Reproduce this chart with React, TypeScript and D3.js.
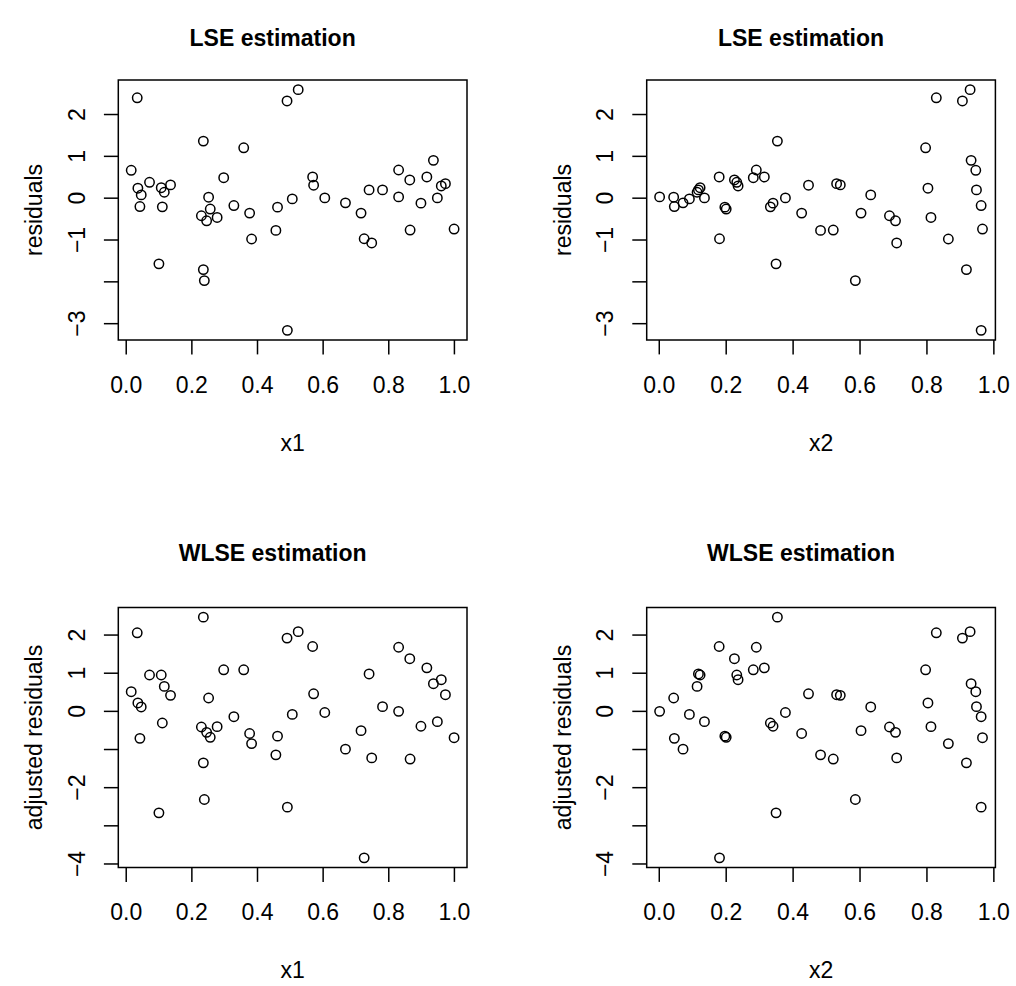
import * as d3 from 'd3';

const x1 = [
  0.0335, 0.0152, 0.0355, 0.0457, 0.0417, 0.071, 0.1067, 0.116, 0.135, 0.11,
  0.0996, 0.235, 0.235, 0.238, 0.229, 0.245, 0.251, 0.256, 0.277, 0.297,
  0.328, 0.358, 0.376, 0.382, 0.461, 0.456, 0.49, 0.524, 0.491, 0.506,
  0.568, 0.571, 0.605, 0.668, 0.7155, 0.725, 0.748, 0.74, 0.781, 0.83,
  0.83, 0.864, 0.865, 0.898, 0.916, 0.936, 0.948, 0.96, 0.9726, 0.999,
];

const x2 = [
  0.828, 0.946, 0.803, 0.632, 0.045, 0.2316, 0.122, 0.113, 0.541, 0.332,
  0.349, 0.353, 0.918, 0.586, 0.688, 0.706, 0.043, 0.2, 0.812, 0.281,
  0.962, 0.796, 0.4255, 0.864, 0.196, 0.482, 0.906, 0.929, 0.962, 0.09,
  0.179, 0.446, 0.377, 0.071, 0.603, 0.18, 0.7096, 0.117, 0.948, 0.29,
  0.001, 0.2246, 0.52, 0.34, 0.314, 0.932, 0.135, 0.2355, 0.53, 0.966,
];

const residuals = [
  2.4, 0.667, 0.238, 0.079, -0.2, 0.38, 0.25, 0.142, 0.317, -0.207,
  -1.57, 1.364, -1.707, -1.97, -0.42, -0.54, 0.024, -0.26, -0.46, 0.49,
  -0.176, 1.205, -0.357, -0.976, -0.214, -0.77, 2.324, 2.595, -3.16, -0.017,
  0.507, 0.31, 0.007, -0.112, -0.357, -0.97, -1.07, 0.198, 0.198, 0.674,
  0.031, 0.436, -0.762, -0.119, 0.507, 0.905, 0.007, 0.293, 0.348, -0.738,
];

const adjustedResiduals = [
  2.06, 0.516, 0.22, 0.115, -0.707, 0.953, 0.953, 0.655, 0.42, -0.305,
  -2.66, 2.47, -1.35, -2.31, -0.41, -0.55, 0.35, -0.68, -0.4, 1.09,
  -0.14, 1.09, -0.58, -0.845, -0.65, -1.14, 1.92, 2.09, -2.51, -0.08,
  1.7, 0.46, -0.03, -0.99, -0.505, -3.84, -1.22, 0.98, 0.123, 1.68,
  0, 1.38, -1.25, -0.39, 1.14, 0.725, -0.27, 0.83, 0.437, -0.69,
];

const xTicks = [0, 0.2, 0.4, 0.6, 0.8, 1.0];
const xTickLabels = ['0.0', '0.2', '0.4', '0.6', '0.8', '1.0'];
const lseTicks = [-3, -2, -1, 0, 1, 2];
const lseTickLabels = ['\u22123', '', '\u22121', '0', '1', '2'];
const wlseTicks = [-4, -3, -2, -1, 0, 1, 2];
const wlseTickLabels = ['\u22124', '', '\u22122', '', '0', '1', '2'];

const FONT = '"Liberation Sans", Arial, Helvetica, sans-serif';
const W = 348.7;
const H = 260;
const TICK = 14.4;

// like R: data range plus 4% on each side
const padded = (v: number[]) => {
  const [a, b] = d3.extent(v) as [number, number];
  const p = (b - a) * 0.04;
  return [a - p, b + p];
};

type PanelProps = {
  xs: number[];
  ys: number[];
  left: number;
  top: number;
  title: string;
  xLabel: string;
  yLabel: string;
  yTicks: number[];
  yTickLabels: string[];
  titleY: number;
};

function Panel({ xs, ys, left, top, title, xLabel, yLabel, yTicks, yTickLabels, titleY }: PanelProps) {
  const x = d3.scaleLinear().domain(padded(xs)).range([left, left + W]);
  const y = d3.scaleLinear().domain(padded(ys)).range([top + H, top]);
  const bottom = top + H;
  const midY = top + H / 2;

  return (
    <g fontFamily={FONT} fill="#000">
      <text x={left + W / 2 - 20} y={titleY} textAnchor="middle" fontWeight="bold" fontSize={23}>
        {title}
      </text>

      {xs.map((d, i) => (
        <circle key={i} cx={x(d)} cy={y(ys[i])} r={4.7} fill="none" stroke="#000" strokeWidth={1.5} />
      ))}

      <rect x={left} y={top} width={W} height={H} fill="none" stroke="#000" strokeWidth={1.5} />

      {/* x axis */}
      {xTicks.map((t, i) => (
        <g key={t}>
          <line x1={x(t)} x2={x(t)} y1={bottom} y2={bottom + TICK} stroke="#000" strokeWidth={1.5} />
          <text x={x(t)} y={bottom + 52.6} textAnchor="middle" fontSize={23}>
            {xTickLabels[i]}
          </text>
        </g>
      ))}
      <text x={left + W / 2} y={bottom + 110.5} textAnchor="middle" fontSize={23}>
        {xLabel}
      </text>

      {/* y axis */}
      {yTicks.map((t, i) => (
        <g key={t}>
          <line x1={left - TICK} x2={left} y1={y(t)} y2={y(t)} stroke="#000" strokeWidth={1.5} />
          {yTickLabels[i] && (
            <text
              transform={`translate(${left - 33.3},${y(t)}) rotate(-90)`}
              textAnchor="middle"
              fontSize={23}
            >
              {yTickLabels[i]}
            </text>
          )}
        </g>
      ))}
      <text transform={`translate(${left - 76},${midY}) rotate(-90)`} textAnchor="middle" fontSize={23}>
        {yLabel}
      </text>
    </g>
  );
}

export default function App() {
  const lefts = [118.3, 646.7];
  const tops = [80, 607.5];
  return (
    <svg
      width={1016}
      height={986}
      style={{ position: 'absolute', left: 0, top: 0, background: '#fff' }}
    >
      <rect width={1016} height={986} fill="#fff" />
      <Panel xs={x1} ys={residuals} left={lefts[0]} top={tops[0]} title="LSE estimation"
        xLabel="x1" yLabel="residuals" yTicks={lseTicks} yTickLabels={lseTickLabels} titleY={46} />
      <Panel xs={x2} ys={residuals} left={lefts[1]} top={tops[0]} title="LSE estimation"
        xLabel="x2" yLabel="residuals" yTicks={lseTicks} yTickLabels={lseTickLabels} titleY={46} />
      <Panel xs={x1} ys={adjustedResiduals} left={lefts[0]} top={tops[1]} title="WLSE estimation"
        xLabel="x1" yLabel="adjusted residuals" yTicks={wlseTicks} yTickLabels={wlseTickLabels} titleY={561} />
      <Panel xs={x2} ys={adjustedResiduals} left={lefts[1]} top={tops[1]} title="WLSE estimation"
        xLabel="x2" yLabel="adjusted residuals" yTicks={wlseTicks} yTickLabels={wlseTickLabels} titleY={561} />
    </svg>
  );
}
